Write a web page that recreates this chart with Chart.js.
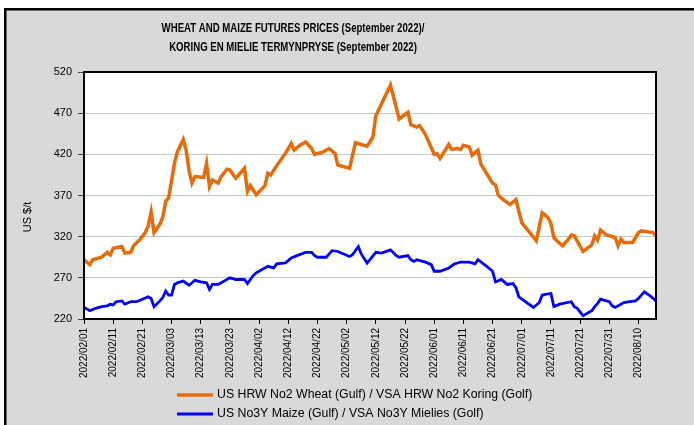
<!DOCTYPE html>
<html>
<head>
<meta charset="utf-8">
<script src="https://cdn.jsdelivr.net/npm/chart.js@4.4.1/dist/chart.umd.min.js"></script>
<style>
  html, body { margin: 0; padding: 0; background: #fff; }
  #wrap { width: 694px; height: 425px; position: relative; }
</style>
</head>
<body>
<div id="wrap"><canvas id="chart"></canvas></div>
<script>
const titleLines = [
    'WHEAT AND MAIZE FUTURES PRICES (September 2022)/',
    'KORING EN MIELIE TERMYNPRYSE (September 2022)'
];
const yTitle = 'US $/t';

// one label every 10 days
const tickLabels = [
    '2022/02/01', '2022/02/11', '2022/02/21', '2022/03/03', '2022/03/13',
    '2022/03/23', '2022/04/02', '2022/04/12', '2022/04/22', '2022/05/02',
    '2022/05/12', '2022/05/22', '2022/06/01', '2022/06/11', '2022/06/21',
    '2022/07/01', '2022/07/11', '2022/07/21', '2022/07/31', '2022/08/10'
];

// x values are days since 2022/02/01
const wheatDays = [
    0, 2, 3, 6, 8, 9, 10, 13, 14, 16, 17, 19, 21, 22, 23, 24, 26, 27, 28, 29,
    31, 32, 34, 35, 36, 37, 38, 41, 42, 43, 44, 46, 47, 49, 50, 52, 55, 56, 57, 59,
    62, 63, 64, 66, 69, 71, 72, 74, 76, 78, 79, 82, 84, 86, 87, 91, 93, 97, 99, 100,
    105, 108, 111, 112, 114, 115, 117, 118, 120, 121, 122, 125, 126, 128, 129, 130, 132, 133, 135, 136,
    140, 141, 142, 144, 146, 148, 150, 155, 157, 159, 160, 161, 162, 164, 166, 167, 168, 171, 174, 175,
    176, 177, 179, 182, 183, 184, 185, 188, 190, 191, 195, 196
];
const wheatPrices = [
    292, 286, 292, 295, 301, 298, 306, 308, 300, 301, 309, 316, 325, 333, 350, 325, 335, 344, 363, 367,
    409, 423, 438, 425, 400, 385, 393, 392, 409, 381, 389, 385, 393, 402, 401, 391, 403, 375, 382, 371,
    382, 397, 395, 406, 421, 433, 425, 431, 435, 427, 420, 423, 427, 421, 407, 403, 434, 430, 441, 467,
    504, 463, 471, 456, 453, 455, 444, 436, 420, 421, 415, 432, 426, 427, 426, 431, 429, 419, 425, 408,
    385, 383, 370, 364, 359, 365, 337, 315, 349, 343, 336, 319, 315, 309, 317, 322, 321, 302, 310, 321,
    316, 328, 322, 319, 309, 317, 313, 313, 325, 327, 325, 321
];

const maizeDays = [
    0, 2, 4, 6, 8, 9, 10, 11, 13, 14, 16, 18, 20, 22, 23, 24, 26, 27, 28, 29,
    30, 31, 32, 34, 36, 38, 40, 42, 43, 44, 46, 50, 51, 52, 55, 56, 58, 59, 63, 65,
    66, 69, 71, 73, 76, 78, 79, 80, 83, 85, 87, 91, 92, 94, 95, 97, 100, 102, 105, 107,
    108, 111, 112, 113, 114, 117, 119, 120, 122, 125, 127, 128, 129, 132, 134, 135, 138, 140, 141, 143,
    145, 147, 148, 149, 154, 156, 157, 158, 160, 161, 163, 167, 168, 169, 171, 174, 175, 176, 177, 180,
    181, 182, 185, 187, 189, 190, 192, 194, 196
];
const maizePrices = [
    234, 230, 233, 235, 236, 238, 237, 241, 242, 238, 241, 241, 244, 247, 245, 235, 242, 246, 254, 249,
    249, 262, 264, 266, 261, 267, 265, 264, 256, 262, 262, 270, 269, 268, 268, 263, 273, 276, 284, 282,
    287, 288, 294, 297, 301, 301, 297, 295, 295, 303, 302, 296, 298, 308, 299, 288, 301, 300, 304, 297,
    295, 297, 292, 290, 292, 289, 286, 278, 278, 282, 287, 288, 289, 289, 287, 292, 284, 278, 265, 268,
    262, 263, 258, 247, 234, 240, 249, 250, 251, 235, 238, 241, 235, 233, 224, 230, 235, 239, 244, 241,
    236, 234, 240, 241, 242, 245, 253, 248, 242
];

const toPoints = (days, values) => days.map((d, i) => ({ x: d, y: values[i] }));

const FONT = "'Liberation Sans', Arial, sans-serif";

// background, outer frame, plot frame, title, axis title and legend
const excelLook = {
    id: 'excelLook',
    beforeDraw(chart) {
        const { ctx, chartArea: a } = chart;
        ctx.save();
        ctx.fillStyle = '#ffffff';
        ctx.fillRect(0, 0, chart.width, chart.height);
        ctx.fillStyle = '#000000';
        ctx.fillRect(4, 8, chart.width, chart.height);
        ctx.fillStyle = '#d9d9d9';
        ctx.fillRect(6.5, 10.5, chart.width, chart.height);
        ctx.fillStyle = '#ffffff';
        ctx.fillRect(a.left, a.top, a.right - a.left, a.bottom - a.top);
        ctx.restore();
    },
    afterDatasetsDraw(chart) {
        const { ctx, chartArea: a } = chart;
        ctx.save();
        ctx.strokeStyle = '#000000';
        ctx.lineWidth = 2;
        ctx.strokeRect(a.left, a.top, a.right - a.left, a.bottom - a.top);
        ctx.restore();
    },
    afterDraw(chart) {
        const { ctx } = chart;
        ctx.save();
        ctx.fillStyle = '#000000';

        // the original title uses a condensed bold face
        ctx.font = 'bold 13px ' + FONT;
        ctx.textAlign = 'center';
        ctx.textBaseline = 'middle';
        ctx.save();
        ctx.translate(293, 0);
        ctx.scale(0.74, 1);
        ctx.fillText(titleLines[0], 0, 28);
        ctx.fillText(titleLines[1], 0, 47);
        ctx.restore();

        ctx.font = '11px ' + FONT;
        ctx.save();
        ctx.translate(28, 217);
        ctx.rotate(-Math.PI / 2);
        ctx.fillText(yTitle, 0, 0);
        ctx.restore();

        ctx.font = '12.3px ' + FONT;
        ctx.textAlign = 'left';
        chart.data.datasets.forEach((ds, i) => {
            const y = 395 + i * 19;
            ctx.strokeStyle = ds.borderColor;
            ctx.lineWidth = ds.borderWidth;
            ctx.beginPath();
            ctx.moveTo(177, y);
            ctx.lineTo(213, y);
            ctx.stroke();
            ctx.fillText(ds.label, 217, y);
        });
        ctx.restore();
    }
};

new Chart(document.getElementById('chart'), {
    type: 'line',
    data: {
        datasets: [
            {
                label: 'US HRW No2 Wheat (Gulf) / VSA HRW No2 Koring (Golf)',
                data: toPoints(wheatDays, wheatPrices),
                borderColor: '#e46c0a',
                borderWidth: 3.5,
                pointRadius: 0,
                tension: 0
            },
            {
                label: 'US No3Y Maize (Gulf) / VSA No3Y Mielies (Golf)',
                data: toPoints(maizeDays, maizePrices),
                borderColor: '#0000ff',
                borderWidth: 2.8,
                pointRadius: 0,
                tension: 0
            }
        ]
    },
    options: {
        responsive: true,
        maintainAspectRatio: false,
        animation: false,
        layout: { padding: { left: 0, right: 38, top: 72, bottom: 0 } },
        plugins: {
            legend: { display: false },
            title: { display: false },
            tooltip: { enabled: false }
        },
        scales: {
            x: {
                type: 'linear',
                min: 0,
                max: 196,
                afterFit(scale) { scale.height = 106; },
                border: { display: false },
                grid: {
                    drawOnChartArea: false,
                    drawTicks: true,
                    tickLength: 5,
                    tickColor: '#000000'
                },
                ticks: {
                    stepSize: 10,
                    includeBounds: false,
                    autoSkip: false,
                    minRotation: 90,
                    maxRotation: 90,
                    padding: 4,
                    color: '#000000',
                    font: { family: FONT, size: 10 },
                    callback: (v) => tickLabels[v / 10]
                }
            },
            y: {
                min: 220,
                max: 520,
                afterFit(scale) { scale.width = 84; },
                border: { display: false },
                grid: {
                    color: '#c8c8c8',
                    lineWidth: 1,
                    drawTicks: true,
                    tickLength: 6,
                    tickColor: '#404040'
                },
                ticks: {
                    stepSize: 50,
                    padding: 6,
                    color: '#000000',
                    font: { family: FONT, size: 11 }
                }
            }
        }
    },
    plugins: [excelLook]
});
</script>
</body>
</html>
